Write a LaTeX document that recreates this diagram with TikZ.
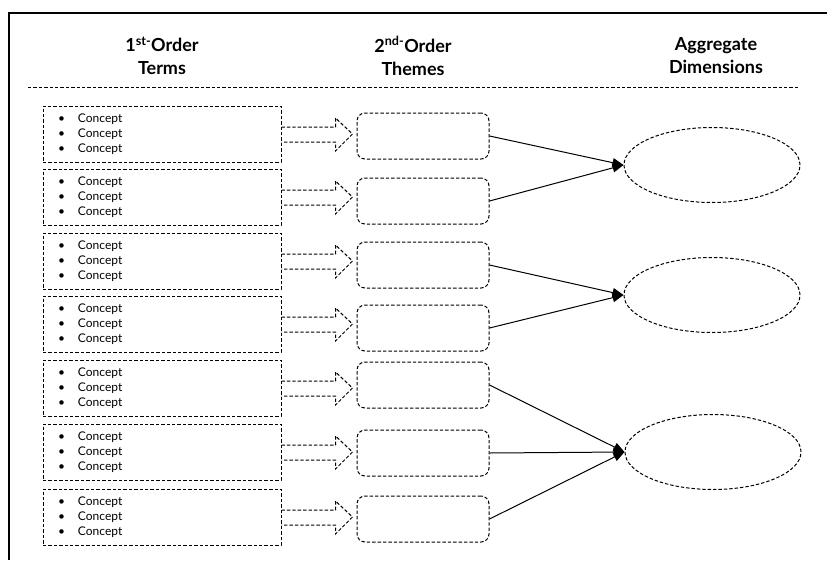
\documentclass[tikz,border=0pt]{standalone}
\usepackage{fontspec}
\setmainfont{Lato}
\usetikzlibrary{shapes.geometric,arrows.meta,calc}
\begin{document}
\begin{tikzpicture}[x=1pt,y=-1pt,
  dsh/.style={dash pattern=on 3.4pt off 2pt, line width=1pt, draw=black},
  termbox/.style={dsh, rectangle, minimum width=238pt, minimum height=56pt,
    text width=208pt, inner xsep=15pt, align=left,
    font=\fontsize{12}{15}\selectfont},
  themebox/.style={dsh, rectangle, rounded corners=8pt,
    minimum width=132pt, minimum height=46pt},
  dimension/.style={dsh, ellipse, minimum width=176pt, minimum height=75pt},
  header/.style={align=center, font=\bfseries\fontsize{18}{23}\selectfont},
  link/.style={line width=1pt, draw=black, -{Triangle[length=11pt,width=9pt]}}
]
\useasboundingbox (0,0) rectangle (827,560);
% frame on the top and left edges
\draw[line width=2.6pt] (9,560) -- (9,13) -- (827,13);

% column headings
\node[header] (h1) at (162,56) {1\textsuperscript{st-}Order\\Terms};
\node[header] (h2) at (413,56) {2\textsuperscript{nd-}Order\\Themes};
\node[header] (h3) at (716,56) {Aggregate\\Dimensions};
\coordinate (r0) at (28,87);
\coordinate (r1) at (800,87);
\draw[dsh, line width=0.9pt] (r0) -- (r1);

% first-order terms, second-order themes and the block arrows between them
\foreach \i/\ly/\my in {1/134/136, 2/197/201, 3/261/265, 4/324/328,
                        5/388/385, 6/452/453, 7/517/519}{
  \node[termbox] (t\i) at (162,\ly)
    {\makebox[20pt][l]{\textbullet}Concept\\
     \makebox[20pt][l]{\textbullet}Concept\\
     \makebox[20pt][l]{\textbullet}Concept};
  \node[themebox] (m\i) at (423,\my) {};
  \draw[dsh] ($(t\i.east)+(0,-7)$) -- ++(54,0) -- ++(0,-9) -- ++(17,16)
     -- ++(-17,17) -- ++(0,-9) -- ++(-54,0);
}

% aggregate dimensions
\node[dimension] (d1) at (712,165) {};
\node[dimension] (d2) at (712,295) {};
\node[dimension] (d3) at (713,452) {};

% theme-to-dimension links
\draw[link] (m1.east) -- (d1.west);
\draw[link] (m2.east) -- (d1.west);
\draw[link] (m3.east) -- (d2.west);
\draw[link] (m4.east) -- (d2.west);
\draw[link] (m5.east) -- (d3.west);
\draw[link] (m6.east) -- (d3.west);
\draw[link] (m7.east) -- (d3.west);
\end{tikzpicture}
\end{document}
